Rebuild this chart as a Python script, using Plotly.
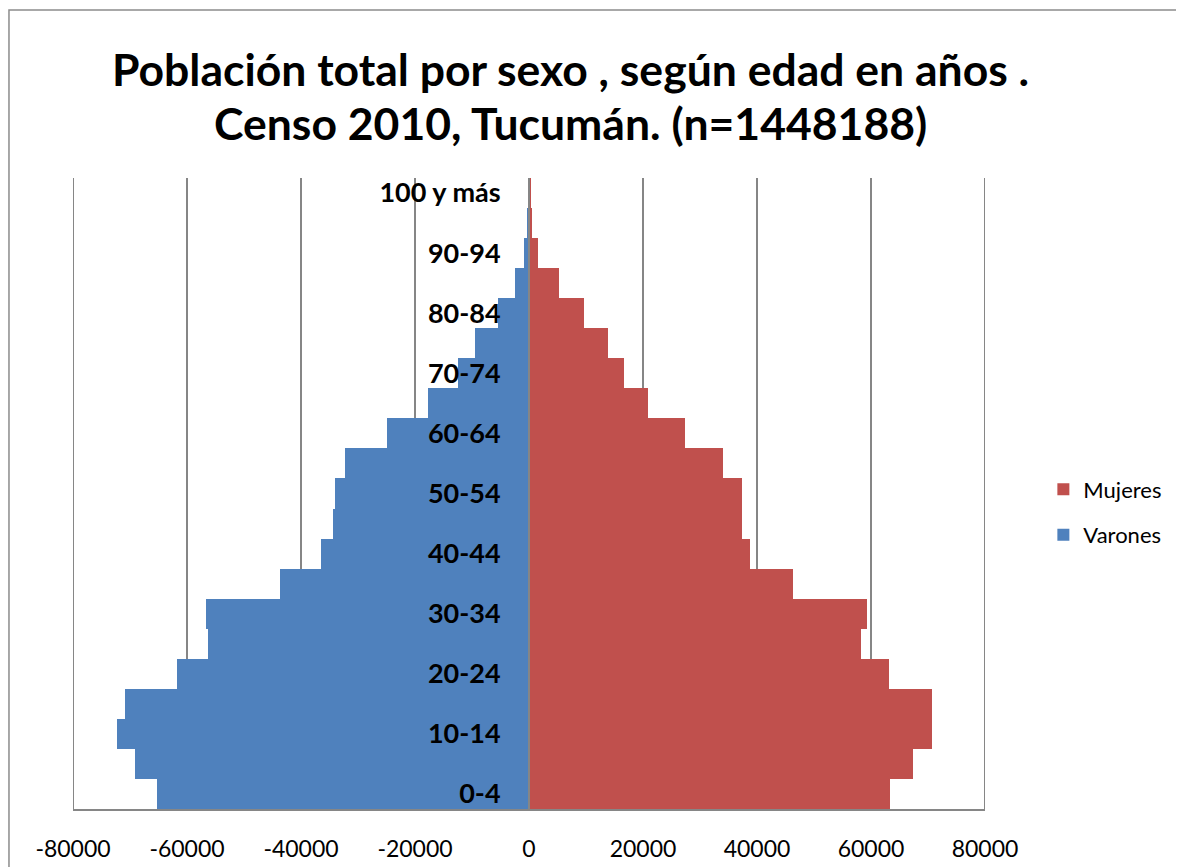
import plotly.graph_objects as go

# age groups, bottom to top
edades = ["0-4", "5-9", "10-14", "15-19", "20-24", "25-29", "30-34", "35-39",
          "40-44", "45-49", "50-54", "55-59", "60-64", "65-69", "70-74",
          "75-79", "80-84", "85-89", "90-94", "95-99", "100 y más"]

varones = [65300, 69100, 72200, 70800, 61800, 56300, 56600, 43700, 36500,
           34400, 34000, 32300, 25000, 17800, 12500, 9400, 5500, 2400, 800,
           350, 100]
mujeres = [63400, 67300, 70700, 70700, 63100, 58300, 59300, 46400, 38800,
           37400, 37400, 34000, 27400, 20800, 16600, 13900, 9700, 5200, 1650,
           500, 200]

edades_visibles = edades[::2]
x_ticks = [-80000, -60000, -40000, -20000, 0, 20000, 40000, 60000, 80000]
x_ticktext = ["-80000", "-60000", "-40000", "-20000", "0", "20000", "40000",
              "60000", "80000"]

FONT = "Lato"
GRID = "#868686"

fig = go.Figure()
fig.add_trace(go.Bar(
    y=edades, x=mujeres, orientation="h", name="Mujeres",
    legendgroup="m", marker=dict(color="#C0504D", line=dict(width=0)),
))
fig.add_trace(go.Bar(
    y=edades, x=[-v for v in varones], orientation="h", name="Varones",
    legendgroup="v", marker=dict(color="#4F81BD", line=dict(width=0)),
))

# outer gridlines at the ends of the range (plotly drops them)
edge_lines = [dict(type="line", xref="x", yref="paper", x0=v, x1=v, y0=0, y1=1,
                   line=dict(color=GRID, width=2), layer="below")
              for v in (x_ticks[0], x_ticks[-1])]

fig.update_layout(
    width=1184, height=867,
    margin=dict(l=65, r=207, t=170, b=66),
    paper_bgcolor="white", plot_bgcolor="white",
    barmode="relative", bargap=0,
    font=dict(family=FONT, color="black"),
    showlegend=True,
    legend=dict(x=1.064, y=0.47, xanchor="left", yanchor="middle",
                font=dict(size=22, family=FONT), traceorder="grouped",
                tracegroupgap=14, itemwidth=30),
    xaxis=dict(range=[-80000, 80000], tickvals=x_ticks, ticktext=x_ticktext,
               showgrid=True, gridcolor=GRID, gridwidth=2,
               zeroline=False, showline=True, linecolor=GRID, linewidth=2,
               ticks="", tickfont=dict(size=23, family=FONT),
               ticklabelstandoff=18, fixedrange=True),
    yaxis=dict(categoryorder="array", categoryarray=edades,
               tickvals=edades_visibles, anchor="free", position=0.5,
               showline=True, linecolor=GRID, linewidth=2,
               showgrid=False, zeroline=False, ticks="",
               tickfont=dict(size=27, family=FONT, weight="bold"),
               ticklabelstandoff=22, fixedrange=True),
    annotations=[
        dict(text="<b>Población total por sexo , según edad en años .</b>",
             xref="paper", yref="paper", x=0.545, y=1.1743,
             xanchor="center", yanchor="middle", showarrow=False,
             font=dict(size=44.5, family=FONT)),
        dict(text="<b>Censo 2010, Tucumán. (n=1448188)</b>",
             xref="paper", yref="paper", x=0.545, y=1.0887,
             xanchor="center", yanchor="middle", showarrow=False,
             font=dict(size=44.5, family=FONT)),
    ],
    shapes=edge_lines + [
        dict(type="rect", xref="paper", yref="paper",
             x0=-0.0702, x1=1.3, y0=-0.3, y1=1.2662,
             line=dict(color="#8c8c8c", width=1.5), layer="below"),
    ],
)

fig.write_html("out.html")
